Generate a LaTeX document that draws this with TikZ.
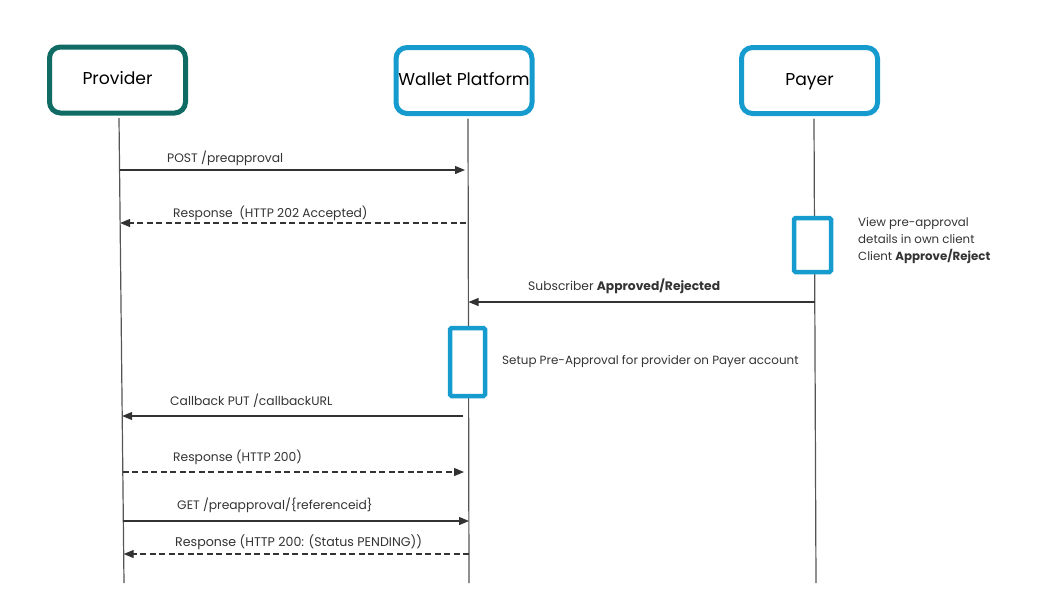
\documentclass[tikz,border=0pt]{standalone}
\usepackage{fontspec}
\setmainfont{Poppins}
\usetikzlibrary{arrows.meta}
\definecolor{provcol}{HTML}{0F6B63}
\definecolor{blucol}{HTML}{169BCF}
\definecolor{linecol}{HTML}{333333}
\definecolor{lifecol}{HTML}{555555}
\begin{document}
\begin{tikzpicture}[x=1pt,y=-1pt,
  head/.style={draw, line width=5pt, rounded corners=11pt, minimum width=136pt, minimum height=66pt, fill=white, inner sep=0pt, text height=12pt, text depth=3pt, font=\fontsize{17.2}{20}\selectfont},
  life/.style={draw=lifecol, line width=1.2pt},
  act/.style={draw=blucol, line width=4.5pt, rounded corners=1.5pt, fill=white},
  msg/.style={draw=linecol, line width=1.2pt, -{Triangle[length=10pt,width=8pt]}},
  ret/.style={msg, dash pattern=on 6pt off 3.5pt},
  lbl/.style={anchor=west, inner sep=0pt, text height=9pt, text depth=2.5pt, font=\fontsize{12.3}{14}\selectfont, text=linecol},
  note/.style={anchor=north west, inner sep=0pt, align=left, font=\fontsize{11.8}{17}\selectfont, text=linecol}
]
\useasboundingbox (0,0) rectangle (1058,606);
% headers
\node[head, draw=provcol] (prov) at (117.5,80) {Provider};
\node[head, draw=blucol] (wal) at (464,80.5) {Wallet Platform};
\node[head, draw=blucol] (pay) at (809.5,80.5) {Payer};
% lifeline ends
\coordinate (pe) at (124,583);
\coordinate (we) at (469,583);
\coordinate (ye) at (816,583);
\draw[life] ([xshift=1.5pt,yshift=-2.5pt]prov.south) -- (pe);
\draw[life] ([xshift=4pt,yshift=-2.5pt]wal.south) -- (we);
\draw[life] ([xshift=4.5pt,yshift=-2.5pt]pay.south) -- (ye);
% activation boxes
\node[act, minimum width=37pt, minimum height=54pt, inner sep=0pt] (pact) at (812.5,245) {};
\node[act, minimum width=35pt, minimum height=68pt, inner sep=0pt] (wact) at (467.5,362) {};
% message coordinates
\coordinate (m1a) at (119.6,170); \coordinate (m1b) at (465,170);
\coordinate (m2a) at (466,223);   \coordinate (m2b) at (120.1,223);
\coordinate (m3a) at (815,302);   \coordinate (m3b) at (468.5,302);
\coordinate (m4a) at (463,416);   \coordinate (m4b) at (122.2,416);
\coordinate (m5a) at (122.8,472); \coordinate (m5b) at (464,472);
\coordinate (m6a) at (123.3,521); \coordinate (m6b) at (469,521);
\coordinate (m7a) at (469,554);   \coordinate (m7b) at (123.7,554);
\draw[msg] (m1a) -- (m1b);
\draw[ret] (m2a) -- (m2b);
\draw[msg] (m3a) -- (m3b);
\draw[msg] (m4a) -- (m4b);
\draw[ret] (m5a) -- (m5b);
\draw[msg] (m6a) -- (m6b);
\draw[ret] (m7a) -- (m7b);
% labels
\node[lbl] (l1) at (167,159) {POST /preapproval};
\node[lbl] (l2) at (173,214) {Response\ \ (HTTP 202 Accepted)};
\node[lbl] (l3) at (528,287) {Subscriber \textbf{Approved/Rejected}};
\node[lbl, font=\fontsize{11.9}{14}\selectfont] (l4) at (502,361) {Setup Pre-Approval for provider on Payer account};
\node[lbl] (l5) at (170,402) {Callback PUT /callbackURL};
\node[lbl] (l6) at (173,458) {Response (HTTP 200)};
\node[lbl] (l7) at (177,506) {GET /preapproval/\{referenceid\}};
\node[lbl, font=\fontsize{12.6}{14}\selectfont] (l8) at (175,543) {Response (HTTP 200: (Status PENDING))};
\node[note] (n1) at (858,217.5) {View pre-approval\\details in own client\\Client \textbf{Approve/Reject}};
\end{tikzpicture}
\end{document}
